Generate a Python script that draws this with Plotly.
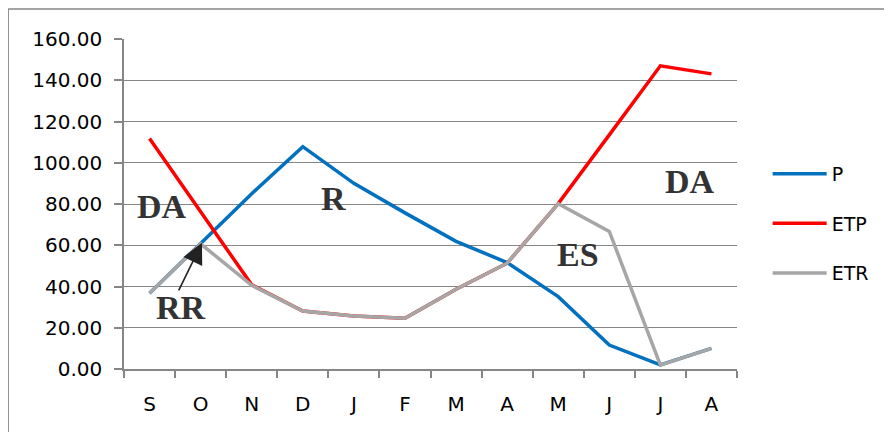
import plotly.graph_objects as go

months = ["S", "O", "N", "D", "J", "F", "M", "A", "M", "J", "J", "A"]
P = [36.7, 60.7, 85.0, 107.8, 90.0, 75.7, 61.9, 51.6, 35.1, 11.6, 2.0, 10.0]
ETP = [111.7, 76.0, 40.8, 28.1, 25.7, 24.6, 38.7, 51.3, 80.2, 113.5, 147.0, 143.1]
ETR = [36.7, 60.7, 40.6, 28.1, 25.7, 24.6, 38.7, 51.3, 80.2, 66.7, 1.9, 10.0]
y_ticks = [0, 20, 40, 60, 80, 100, 120, 140, 160]

x = list(range(len(months)))
fig = go.Figure()
fig.add_trace(go.Scatter(x=x, y=P, mode="lines", name="P",
                         line=dict(color="#0070C0", width=3.5), legendgroup="a"))
fig.add_trace(go.Scatter(x=x, y=ETP, mode="lines", name="ETP",
                         line=dict(color="#FF0000", width=3.5), legendgroup="b"))
fig.add_trace(go.Scatter(x=x, y=ETR, mode="lines", name="ETR",
                         line=dict(color="#A6A6A6", width=3.5), legendgroup="c"))

tick_font = dict(family="DejaVu Sans", size=20, color="#000000")
fig.update_layout(
    width=892, height=432,
    margin=dict(l=116, r=163, t=31, b=71),
    plot_bgcolor="white", paper_bgcolor="white",
    showlegend=True,
    legend=dict(x=1.05, y=0.44, xanchor="left", yanchor="middle",
                font=dict(family="DejaVu Sans", size=19, color="#000000"),
                tracegroupgap=22, itemwidth=54, bgcolor="rgba(0,0,0,0)"),
    xaxis=dict(range=[-0.5, len(months) - 0.5], tickmode="array", tickvals=x,
               ticktext=months, ticks="", showgrid=False, zeroline=False,
               showline=True, linecolor="#868686", linewidth=1.5,
               tickfont=tick_font, ticklabelstandoff=16,
               minor=dict(tickmode="linear", tick0=-0.5, dtick=1, ticks="outside",
                          ticklen=7, tickcolor="#868686", tickwidth=1.5, showgrid=False)),
    yaxis=dict(range=[0, 160], tickmode="array", tickvals=y_ticks,
               ticktext=[f"{v:.2f}" for v in y_ticks],
               showgrid=True, gridcolor="#868686", gridwidth=1.2, zeroline=False,
               showline=True, linecolor="#868686", linewidth=1.5,
               ticks="outside", ticklen=8, tickcolor="#868686", tickwidth=1.5,
               tickfont=tick_font, ticklabelstandoff=8),
)

labels = [("DA", 0.238, 78.7), ("RR", 0.616, 29.6), ("R", 3.61, 82.6),
          ("ES", 8.39, 55.4), ("DA", 10.58, 90.9)]
for t, ax_, ay_ in labels:
    fig.add_annotation(x=ax_, y=ay_, xref="x", yref="y", text=f"<b>{t}</b>",
                       showarrow=False,
                       font=dict(family="Liberation Serif", size=34, color="#333333"))

fig.add_annotation(x=1.027, y=61.2, xref="x", yref="y", ax=0.557, ay=37.4,
                   axref="x", ayref="y", text="", showarrow=True,
                   arrowhead=2, arrowsize=2.6, arrowwidth=1.6, arrowcolor="#222222")

fig.add_shape(type="line", xref="paper", yref="paper", x0=-0.189, x1=1.3,
              y0=1.0906, y1=1.0906, line=dict(color="#868686", width=1.5))
fig.add_shape(type="line", xref="paper", yref="paper", x0=-0.189, x1=-0.189,
              y0=1.0906, y1=-0.25, line=dict(color="#868686", width=1.5))

fig.write_html("out.html")
